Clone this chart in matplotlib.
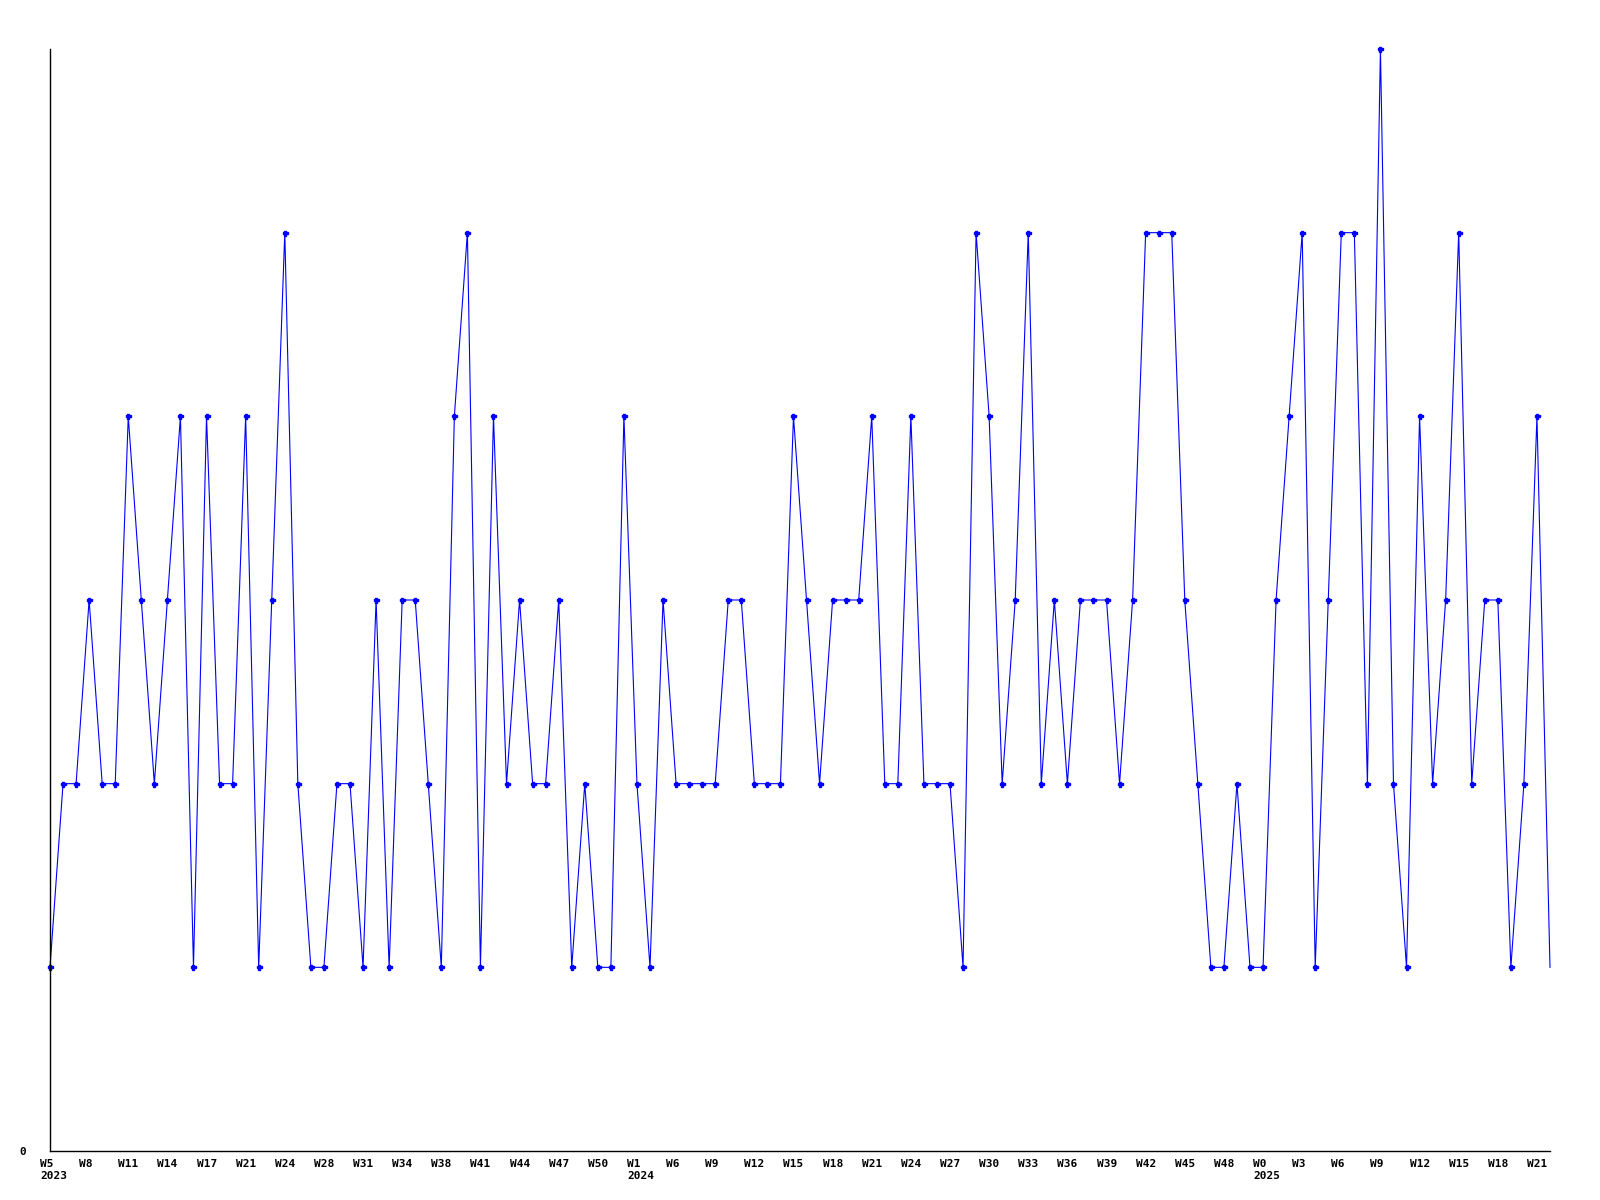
import matplotlib
matplotlib.use('Agg')
import matplotlib.pyplot as plt
import matplotlib.transforms as mtransforms

# weekly counts, one value per week (last week is still open, no marker)
counts = [1, 2, 2, 3, 2, 2, 4, 3, 2, 3, 4, 1, 4, 2, 2, 4, 1, 3, 5, 2,
          1, 1, 2, 2, 1, 3, 1, 3, 3, 2, 1, 4, 5, 1, 4, 2, 3, 2, 2, 3,
          1, 2, 1, 1, 4, 2, 1, 3, 2, 2, 2, 2, 3, 3, 2, 2, 2, 4, 3, 2,
          3, 3, 3, 4, 2, 2, 4, 2, 2, 2, 1, 5, 4, 2, 3, 5, 2, 3, 2, 3,
          3, 3, 2, 3, 5, 5, 5, 3, 2, 1, 1, 2, 1, 1, 3, 4, 5, 1, 3, 5,
          5, 2, 6, 2, 1, 4, 2, 3, 5, 2, 3, 3, 1, 2, 4, 1]

# labels shown every third week
tick_labels = ['W5\n2023', 'W8', 'W11', 'W14', 'W17', 'W21', 'W24', 'W28',
               'W31', 'W34', 'W38', 'W41', 'W44', 'W47', 'W50',
               'W1\n2024', 'W6', 'W9', 'W12', 'W15', 'W18', 'W21', 'W24',
               'W27', 'W30', 'W33', 'W36', 'W39', 'W42', 'W45', 'W48',
               'W0\n2025', 'W3', 'W6', 'W9', 'W12', 'W15', 'W18', 'W21']
tick_step = 3

x = list(range(len(counts)))

fig = plt.figure(figsize=(16, 12), dpi=100)
ax = fig.add_axes([50 / 1600, 1 - 1151 / 1200, 1500 / 1600, 1102 / 1200])

ax.plot(x, counts, color='#0000ff', linewidth=0.8, clip_on=False,
        marker='P', markersize=3.6, markevery=slice(0, len(counts) - 1))

ax.set_xlim(0, len(counts) - 1)
ax.set_ylim(0, max(counts))

ax.spines['top'].set_visible(False)
ax.spines['right'].set_visible(False)
ax.spines['left'].set_linewidth(1.0)
ax.spines['bottom'].set_linewidth(1.0)

ax.set_yticks([0])
ax.set_yticklabels(['0'], fontfamily='DejaVu Sans Mono', fontweight='bold', fontsize=8)
ax.tick_params(axis='y', length=0, pad=17)

ax.set_xticks(x[::tick_step][:len(tick_labels)])
ax.set_xticklabels(tick_labels, fontfamily='DejaVu Sans Mono', fontweight='bold',
                   fontsize=8, ha='left', multialignment='left')
ax.tick_params(axis='x', length=0, pad=6)
shift = mtransforms.ScaledTranslation(-0.10, 0, fig.dpi_scale_trans)
for lbl in ax.get_xticklabels():
    lbl.set_transform(lbl.get_transform() + shift)

fig.savefig('out.png', dpi=100)
